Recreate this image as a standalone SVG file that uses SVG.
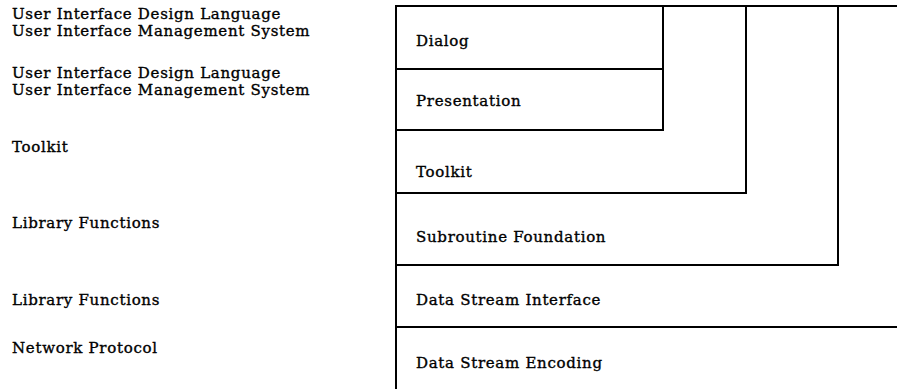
<svg xmlns="http://www.w3.org/2000/svg" width="897" height="389" viewBox="0 0 897 389">
  <style>
    .frame { fill: none; stroke: #000; stroke-width: 2; stroke-linecap: square; }
    .txt { font-family: "DejaVu Serif", "Liberation Serif", serif; font-size: 15px; letter-spacing: 0.7px; fill: #000; stroke: #000; stroke-width: 0.35px; }
  </style>
  <rect width="897" height="389" fill="#fff"/>

  <!-- Layer stack: each layer nests inside the ones below it -->
  <g id="dialog">
    <rect class="frame" x="396" y="6" width="267" height="63"/>
    <text class="txt" x="416" y="46">Dialog</text>
    <text class="txt" x="12" y="19">User Interface Design Language</text>
    <text class="txt" x="12" y="36">User Interface Management System</text>
  </g>

  <g id="presentation">
    <rect class="frame" x="396" y="69" width="267" height="61"/>
    <text class="txt" x="416" y="106">Presentation</text>
    <text class="txt" x="12" y="78">User Interface Design Language</text>
    <text class="txt" x="12" y="95">User Interface Management System</text>
  </g>

  <g id="toolkit">
    <path class="frame" d="M396 6 H746 V193 H396 Z"/>
    <text class="txt" x="416" y="177">Toolkit</text>
    <text class="txt" x="12" y="152">Toolkit</text>
  </g>

  <g id="subroutine-foundation">
    <path class="frame" d="M396 6 H838 V265 H396 Z"/>
    <text class="txt" x="416" y="242">Subroutine Foundation</text>
    <text class="txt" x="12" y="228">Library Functions</text>
  </g>

  <g id="data-stream-interface">
    <path class="frame" d="M897 6 H396 V327 H897"/>
    <text class="txt" x="416" y="305">Data Stream Interface</text>
    <text class="txt" x="12" y="305">Library Functions</text>
  </g>

  <g id="data-stream-encoding">
    <path class="frame" d="M396 327 V389"/>
    <text class="txt" x="416" y="368">Data Stream Encoding</text>
    <text class="txt" x="12" y="353">Network Protocol</text>
  </g>
</svg>
